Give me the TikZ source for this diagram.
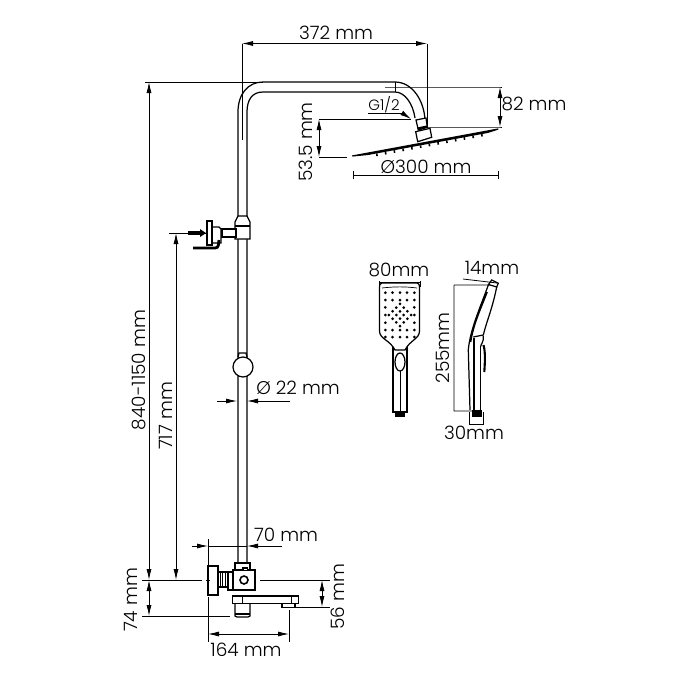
\documentclass[tikz,border=0pt]{standalone}
\usepackage{fontspec}
\setmainfont{Poppins}[UprightFont=* Light]
\usetikzlibrary{arrows.meta,calc}

\begin{document}
\begin{tikzpicture}[x=0.02cm,y=-0.02cm,
    dimline/.style={line width=0.45pt,{Latex[length=2.2mm,width=1mm]}-{Latex[length=2.2mm,width=1mm]}},
    oneway/.style={line width=0.45pt,-{Latex[length=2.2mm,width=1mm]}},
    extline/.style={line width=0.45pt},
    part/.style={line width=0.7pt,fill=white},
    label/.style={inner sep=0pt,font=\fontsize{10.5}{12}\selectfont},
    vlabel/.style={label,rotate=90}]
      \useasboundingbox (0,0) rectangle (700,700);

      % pipe and shower head
      \draw[part,fill=none] (238,590) -- (238,112) .. controls (238,94) and (248,82) .. (263,82) -- (395,82) .. controls (412,82) and (424,100) .. (425,120);
      \draw[part,fill=none] (247,590) -- (247,112) .. controls (247,100) and (252,92) .. (263,92) -- (395,92) .. controls (405,92) and (413,104) .. (415,118);
      \draw[part] (416,120) -- (426,118) -- (427.3,127.3) -- (418.3,130) -- cycle;
      \draw[line width=1.2pt] (417.5,128.5) -- (427,126.5);
      \draw[part] (415.7,131.7) -- (430,128.3) -- (431.7,137.3) -- (417.7,141.7) -- cycle;
      \foreach \i in {0,...,12}
        \draw[line width=0.9pt] ({376.7+\i*8.75},{153.5-\i*1.63}) -- ++(0.4,2.6);
      \draw[part] (352.3,156) -- (498.3,129) -- (488,132.3) -- (368,154.4) -- cycle;

      % holder
      \draw[part] (238,216) -- (247,216) -- (250,222) -- (250,239) -- (235,239) -- (235,222) -- cycle;
      \draw[line width=0.7pt] (235,226) -- (250,226);
      \draw[part] (222,229) rectangle (236,237);
      \draw[part] (212,227) -- (219,227) -- (221,229) -- (221,243) -- (212,243) -- cycle;
      \draw[part] (207,221) rectangle (212,245);
      \fill (188,231) rectangle (200,235);
      \fill (200,229) -- (206,233) -- (200,237) -- cycle;
      \draw[line width=1.6pt,rounded corners=1.5pt] (193,248) -- (218,248) -- (219,240);

      % slider
      \draw[part] (238,357) -- (239,353) -- (246,353) -- (247,357);
      \node[draw,circle,part,minimum size=0.4cm,inner sep=0pt] (knob) at (243,367) {};

      % mixer
      \draw[part] (235,570) -- (235,563) -- (250,563) -- (250,570);
      \draw[part] (235,603) -- (235,616) -- (237,617) -- (248,617) -- (250,616) -- (250,603);
      \draw[line width=0.7pt] (235,614) -- (250,614);
      \draw[part] (232.7,596) rectangle (298.3,603.3);
      \draw[line width=0.7pt] (242.3,596) -- (242.3,603.3) (291.7,596) -- (291.7,603.3);
      \draw[part] (282,603.3) rectangle (295,607.7);
      \draw[part] (233,570) rectangle (255,590);
      \draw[part] (243,570) -- (243,568) -- (247.5,568) -- (247.5,570);
      \draw[part] (228,572) rectangle (233,590);
      \draw[part] (218,572) rectangle (228,587);
      \foreach \i in {220,222.5,225}
        \draw[line width=0.4pt] (\i,572) -- (\i,587);
      \draw[part] (208,566) rectangle (218,595);
      \node[draw,circle,line width=0.9pt,minimum size=0.16cm,inner sep=0pt] (valve) at (244,580) {};

      % hand shower, front
      \draw[part] (393,346) -- (393,412) -- (407,412) -- (407,346);
      \fill (395,412) rectangle (405,417);
      \draw[part] (382,283) -- (417,283) .. controls (419,283) and (419.5,285) .. (419.5,287) -- (419.5,331) .. controls (419.5,339) and (410,340) .. (405,350) -- (395,350) .. controls (390,340) and (379.5,339) .. (379.5,331) -- (379.5,287) .. controls (379.5,285) and (380,283) .. (382,283) -- cycle;
      \draw[line width=0.4pt] (382,288) .. controls (395,286.5) and (405,286.5) .. (417,288);
      \foreach \x in {385.3,414.3}
        \foreach \y in {292.7,300,307.3,315,322.7,330,337}
          \fill (\x,\y) circle (1.5);
      \foreach \x in {392.5,400,407}
        \foreach \y in {292.7,300,330,337}
          \fill (\x,\y) circle (1.5);
      \foreach \u in {-1.5,-0.5,0.5,1.5}
        \foreach \v in {-1.5,-0.5,0.5,1.5}
          \fill ({400+(\u-\v)*3.7},{315+(\u+\v)*3.7}) circle (1.5);
      \draw[part] (400,362) ellipse (5 and 9);
      \draw[line width=0.4pt] (400,371) -- (400,412);

      % hand shower, side
      \draw[part] (491.7,280) -- (498.3,283.3) -- (496.7,287) -- (488.5,284.5) -- cycle;
      \draw[line width=0.7pt] (488.5,284.5) .. controls (480,308) and (470,330) .. (468.3,350) -- (470,410);
      \draw[line width=1pt] (487,292) .. controls (480,310) and (473,325) .. (470.5,342);
      \draw[line width=0.7pt] (496.7,287) .. controls (492,310) and (487,320) .. (483.3,335) -- (473.3,337);
      \draw[line width=0.7pt] (474,338) -- (474,410) (480.5,347) -- (480.5,410);
      \draw[line width=0.7pt] (483.3,336) .. controls (484,342) and (480.5,345) .. (480.5,347);
      \draw[line width=1.2pt] (483.5,345) .. controls (485.5,352) and (485,362) .. (484.3,372);
      \fill (471.7,410) rectangle (481.7,417);

      % dimensions
      \coordinate (w1) at (242,43.5); \coordinate (w2) at (427,43.5);
      \draw[dimline] (w1) -- (w2);
      \draw[extline] (w1) -- (242,140) (w2) -- (427,127);
      \node[label] (lbl372) at (336,33) {372 mm};

      \coordinate (h1) at (500,87); \coordinate (h2) at (500,127);
      \draw[dimline] (h1) -- (h2);
      \draw[extline] (385,87) -- (h1) -- (502,87) (427,127) -- (h2) -- (502,127) (395,82) -- (395,92);
      \node[label] (lbl82) at (534,104) {82 mm};

      \coordinate (d1) at (319,119); \coordinate (d2) at (319,157);
      \draw[dimline] (d1) -- (d2);
      \draw[extline] (d1) -- (411,119) (d2) -- (347,157);
      \node[vlabel] (lbl53) at (306,142) {53.5 mm};

      \coordinate (p1) at (353,175); \coordinate (p2) at (498,175);
      \draw[extline] (p1) -- (p2) (353,171) -- (353,179) (498,171) -- (498,179);
      \node[label] (lbl300) at (426,167) {Ø300 mm};

      \node[label,font=\fontsize{8.5}{9}\selectfont] (lblg) at (384,105) {G1/2};
      \coordinate (g1) at (368,113); \coordinate (g2) at (402,113); \coordinate (g3) at (411,119);
      \draw[extline] (g1) -- (g2);
      \draw[oneway] (g2) -- (g3);

      \coordinate (t1) at (149,82); \coordinate (t2) at (149,580);
      \draw[dimline] (t1) -- (t2);
      \draw[extline] (145,82) -- (263,82);
      \node[vlabel] (lbl840) at (139,370) {840-1150 mm};

      \coordinate (a1) at (176,233); \coordinate (a2) at (176,580);
      \draw[dimline] (a1) -- (a2);
      \draw[extline] (169,233) -- (207,233);
      \node[vlabel] (lbl717) at (166,416) {717 mm};

      \draw[extline] (142,580) -- (202,580) (206,580) -- (210,580) (260,580) -- (330,580) (142,616) -- (230,616);
      \coordinate (b1) at (149,580); \coordinate (b2) at (149,616);
      \draw[dimline] (b1) -- (b2);
      \node[vlabel] (lbl74) at (131,600) {74 mm};

      \coordinate (c1) at (322,580); \coordinate (c2) at (322,607);
      \draw[dimline] (c1) -- (c2);
      \draw[extline] (288,607) -- (330,607);
      \node[vlabel] (lbl56) at (338,597) {56 mm};

      \coordinate (k1) at (208,546); \coordinate (k2) at (247,546);
      \draw[extline] (k1) -- (k2);
      \draw[oneway] (192,546) -- (k1);
      \draw[oneway] (282,546) -- (k2);
      \draw[extline] (208,539) -- (208,565) (208,597) -- (208,642);
      \node[label] (lbl70) at (286,535) {70 mm};

      \coordinate (m1) at (208,634); \coordinate (m2) at (289,634);
      \draw[dimline] (m1) -- (m2);
      \draw[extline] (289,610) -- (289,642);
      \node[label] (lbl164) at (246,650) {164 mm};

      \coordinate (e1) at (237,401); \coordinate (e2) at (247,401);
      \draw[oneway] (217,401) -- (e1);
      \draw[oneway] (290,401) -- (e2);
      \node[label] (lbl22) at (298,388) {Ø 22 mm};

      % hand shower dimensions
      \draw[extline] (379,282) -- (420,282) (379,281) -- (379,287) (420,281) -- (420,287);
      \node[label] (lbl80) at (399,270) {80mm};
      \draw[extline] (463,279) -- (497,283) (454,285) -- (490,285) (454,285) -- (454,411) -- (473,411);
      \node[label] (lbl14) at (492,268) {14mm};
      \node[vlabel] (lbl255) at (443,348) {255mm};
      \draw[extline] (469,412) -- (469,425) (483,412) -- (483,425) (469,424) -- (483,424);
      \node[label] (lbl30) at (474,433) {30mm};
    \end{tikzpicture}
\end{document}
